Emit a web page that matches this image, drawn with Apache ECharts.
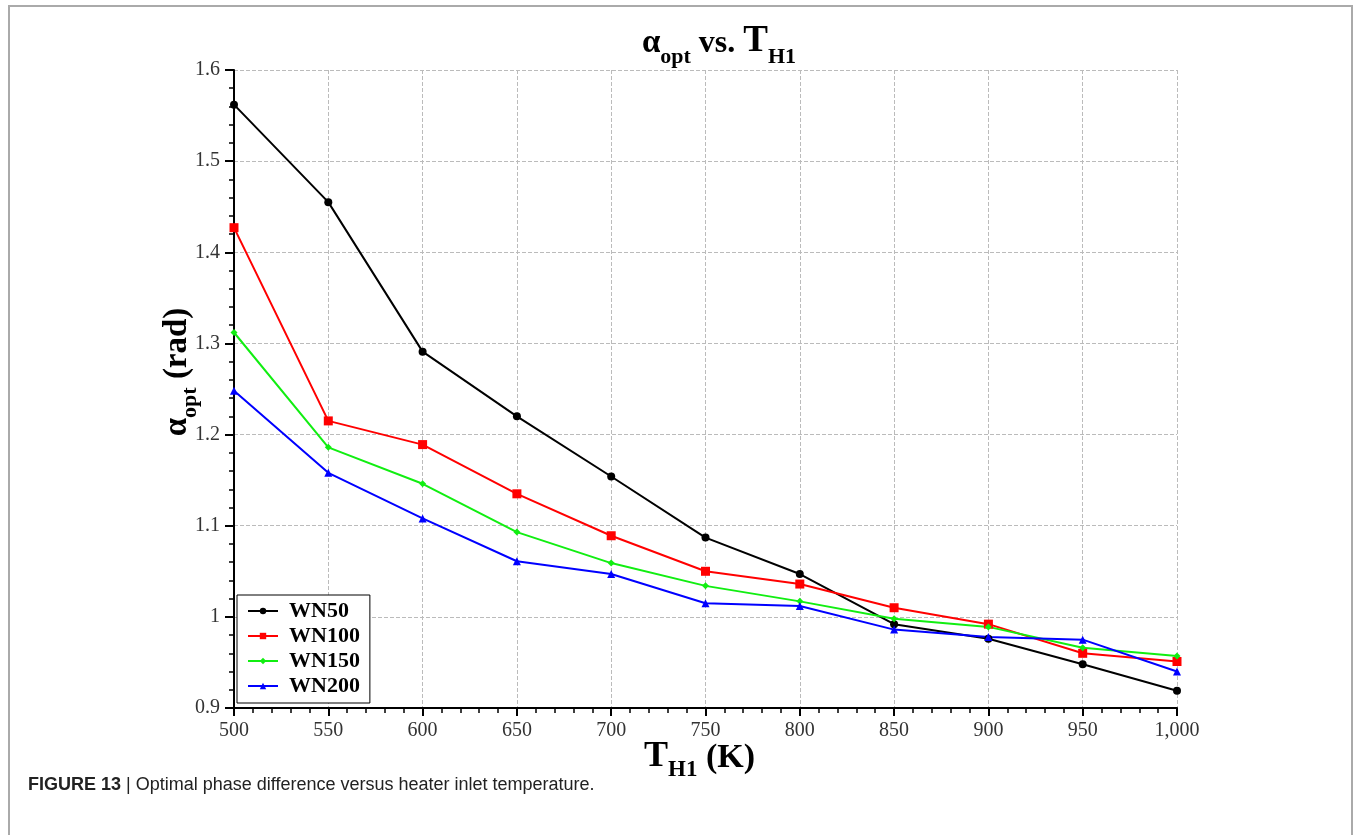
<!DOCTYPE html>
<html>
<head>
<meta charset="utf-8">
<script src="https://cdn.jsdelivr.net/npm/echarts@6/dist/echarts.min.js"></script>
<style>
  html, body { margin: 0; padding: 0; background: #fff; }
  #chart { width: 1355px; height: 835px; }
</style>
</head>
<body>
<div id="chart"></div>
<script>
// temperatures T_H1 (K)
const temps = [500, 550, 600, 650, 700, 750, 800, 850, 900, 950, 1000];
// alpha_opt (rad) per winding number
const wn50 = [1.562, 1.455, 1.291, 1.220, 1.154, 1.087, 1.047, 0.992, 0.976, 0.948, 0.919];
const wn100 = [1.427, 1.215, 1.189, 1.135, 1.089, 1.050, 1.036, 1.010, 0.992, 0.960, 0.951];
const wn150 = [1.312, 1.186, 1.146, 1.093, 1.059, 1.034, 1.017, 0.998, 0.989, 0.966, 0.957];
const wn200 = [1.248, 1.158, 1.108, 1.061, 1.047, 1.015, 1.012, 0.986, 0.978, 0.975, 0.940];

const serif = '"Liberation Serif", "Times New Roman", serif';
const sans = '"Liberation Sans", Arial, sans-serif';

function pairs(ys) {
  return temps.map((t, i) => [t, ys[i]]);
}

const chart = echarts.init(document.getElementById('chart'));

const option = {
  animation: false,
  backgroundColor: '#fff',
  title: {
    text: '{a|α}{s|opt}{v| vs. }{t|T}{s|H1}',
    left: 714,
    top: 18,
    textAlign: 'center',
    textStyle: {
      rich: {
        a: { fontFamily: serif, fontWeight: 'bold', fontSize: 33, color: '#000', verticalAlign: 'bottom', padding: [0, 0, 8, 0] },
        v: { fontFamily: serif, fontWeight: 'bold', fontSize: 32, color: '#000', verticalAlign: 'bottom', padding: [0, 0, 8, 0] },
        t: { fontFamily: serif, fontWeight: 'bold', fontSize: 37, color: '#000', verticalAlign: 'bottom', padding: [0, 0, 8, 0] },
        s: { fontFamily: serif, fontWeight: 'bold', fontSize: 22, color: '#000', verticalAlign: 'bottom' }
      }
    }
  },
  legend: {
    orient: 'vertical',
    left: 237,
    top: 595,
    backgroundColor: '#fff',
    borderColor: '#000',
    borderWidth: 1,
    borderRadius: 0,
    padding: [5, 10, 6, 10],
    itemWidth: 30,
    itemHeight: 8,
    itemGap: 3,
    textStyle: { fontFamily: serif, fontWeight: 'bold', fontSize: 22, color: '#000', padding: [0, 0, 0, 6] },
    data: ['WN50', 'WN100', 'WN150', 'WN200']
  },
  grid: {
    left: 234,
    right: 178,
    top: 70,
    bottom: 127
  },
  xAxis: {
    type: 'value',
    min: 500,
    max: 1000,
    interval: 50,
    name: '{t|T}{s|H1}{n| (K)}',
    nameLocation: 'middle',
    nameGap: 31,
    nameMoveOverlap: false,
    nameTextStyle: {
      rich: {
        t: { fontFamily: serif, fontWeight: 'bold', fontSize: 36, color: '#000', verticalAlign: 'bottom', padding: [0, 0, 7, 0] },
        n: { fontFamily: serif, fontWeight: 'bold', fontSize: 34, color: '#000', verticalAlign: 'bottom', padding: [0, 12, 7, 0] },
        s: { fontFamily: serif, fontWeight: 'bold', fontSize: 23, color: '#000', verticalAlign: 'bottom' }
      }
    },
    axisLine: { lineStyle: { color: '#000', width: 2 } },
    axisTick: { show: true, length: 8, lineStyle: { color: '#000', width: 2 } },
    minorTick: { show: true, splitNumber: 5, length: 5, lineStyle: { color: '#000', width: 1.5 } },
    axisLabel: {
      fontFamily: serif,
      fontSize: 20,
      color: '#333',
      margin: 13,
      formatter: v => v >= 1000 ? '1,000' : String(v)
    },
    splitLine: { show: true, lineStyle: { color: '#bbb', type: 'dashed', width: 1 } }
  },
  yAxis: {
    type: 'value',
    min: 0.9,
    max: 1.6,
    interval: 0.1,
    name: '{a|α}{s|opt}{n| (rad)}',
    nameLocation: 'middle',
    nameGap: 33,
    nameMoveOverlap: false,
    nameTextStyle: {
      rich: {
        a: { fontFamily: serif, fontWeight: 'bold', fontSize: 33, color: '#000', verticalAlign: 'bottom', padding: [0, 0, 7, 34] },
        n: { fontFamily: serif, fontWeight: 'bold', fontSize: 33, color: '#000', verticalAlign: 'bottom', padding: [0, 0, 7, 0] },
        s: { fontFamily: serif, fontWeight: 'bold', fontSize: 22, color: '#000', verticalAlign: 'bottom' }
      }
    },
    axisLine: { show: true, lineStyle: { color: '#000', width: 2 } },
    axisTick: { show: true, length: 9, lineStyle: { color: '#000', width: 2 } },
    minorTick: { show: true, splitNumber: 5, length: 5, lineStyle: { color: '#000', width: 1.5 } },
    axisLabel: {
      fontFamily: serif,
      fontSize: 20,
      color: '#333',
      margin: 14,
      formatter: v => String(parseFloat(v.toFixed(1)))
    },
    splitLine: { show: true, lineStyle: { color: '#bbb', type: 'dashed', width: 1 } }
  },
  series: [
    {
      name: 'WN50', type: 'line', data: pairs(wn50),
      symbol: 'circle', symbolSize: 8,
      lineStyle: { color: '#000', width: 2 }, itemStyle: { color: '#000' }
    },
    {
      name: 'WN100', type: 'line', data: pairs(wn100),
      symbol: 'rect', symbolSize: 9,
      lineStyle: { color: '#ff0000', width: 2 }, itemStyle: { color: '#ff0000' }
    },
    {
      name: 'WN150', type: 'line', data: pairs(wn150),
      symbol: 'diamond', symbolSize: 7,
      lineStyle: { color: '#11ee11', width: 2 }, itemStyle: { color: '#11ee11' }
    },
    {
      name: 'WN200', type: 'line', data: pairs(wn200),
      symbol: 'triangle', symbolSize: 8,
      lineStyle: { color: '#0000ff', width: 2 }, itemStyle: { color: '#0000ff' }
    }
  ],
  graphic: [
    {
      type: 'rect',
      shape: { x: 9, y: 6, width: 1343, height: 900 },
      style: { fill: 'none', stroke: '#aaa', lineWidth: 2 },
      silent: true
    },
    {
      type: 'text',
      left: 28,
      top: 776,
      style: {
        text: '{b|FIGURE 13} | Optimal phase difference versus heater inlet temperature.',
        font: '18px ' + sans,
        fill: '#222',
        rich: {
          b: { fontFamily: sans, fontWeight: 'bold', fontSize: 18, fill: '#222' }
        }
      }
    }
  ]
};

chart.setOption(option);
window.addEventListener('resize', () => {
  chart.resize();
});
</script>
</body>
</html>
